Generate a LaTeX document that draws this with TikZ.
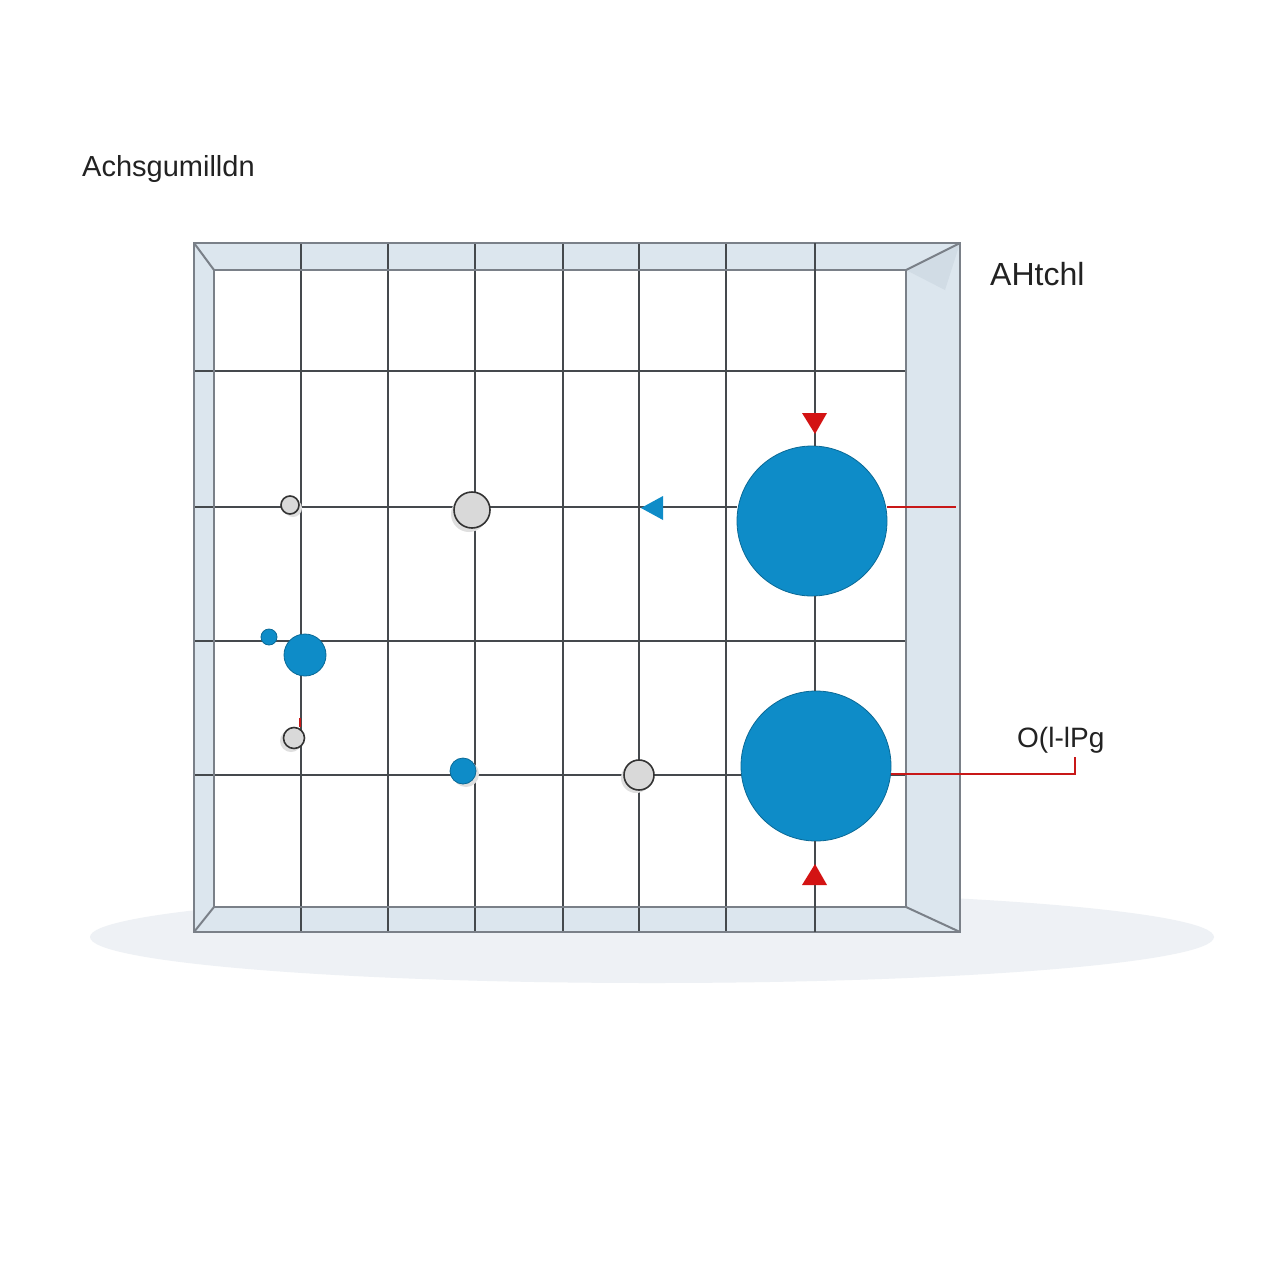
\documentclass[tikz,border=0pt]{standalone}
\usepackage{fontspec}
\setmainfont{Liberation Sans}
\definecolor{bandc}{HTML}{DCE6EE}
\definecolor{bandd}{HTML}{C9D6E0}
\definecolor{framec}{HTML}{7A8088}
\definecolor{gridc}{HTML}{45494D}
\definecolor{dotblue}{HTML}{0E8CC8}
\definecolor{redc}{HTML}{C81818}
\definecolor{shadowc}{HTML}{EEF1F5}
\definecolor{txtc}{HTML}{222222}
\begin{document}
\begin{tikzpicture}[x=1pt,y=-1pt,
  gridline/.style={draw=gridc, line width=1.4pt},
  frameline/.style={draw=framec, line width=2pt},
  bluedot/.style={circle, fill=dotblue, draw=dotblue!75!black, line width=0.8pt, inner sep=0pt, minimum size=#1},
  graydot/.style={circle, fill=gray!30, draw=gray!40!black, line width=1.6pt, inner sep=0pt, minimum size=#1},
  dotshadow/.style={fill=gray!25},
  redline/.style={draw=redc, line width=1.5pt},
  redtip/.style={fill=redc!80!red},
  lbl/.style={text=txtc, inner sep=0pt, anchor=west}]
\useasboundingbox (0,0) rectangle (1280,1280);
\fill[white] (0,0) rectangle (1280,1280);
% ground shadow
\fill[shadowc] (652,937) ellipse [x radius=562, y radius=46];
% frame bands
\fill[bandc] (194,243) rectangle (960,932);
\fill[bandd!60!bandc] (960,243) -- (906,270) -- (945,290) -- cycle;
\fill[white] (214,270) rectangle (906,907);
% grid lines
\foreach \x in {301,388,475,563,639,726}
  \draw[gridline] (\x,243) -- (\x,932);
\foreach \y in {371,641,775}
  \draw[gridline] (194,\y) -- (906,\y);
\draw[gridline] (194,507) -- (737,507);
% frame outlines and bevels
\draw[frameline] (194,243) rectangle (960,932);
\draw[frameline] (214,270) rectangle (906,907);
\draw[frameline] (194,243) -- (214,270);
\draw[frameline] (960,243) -- (906,270);
\draw[frameline] (194,932) -- (214,907);
\draw[frameline] (960,932) -- (906,907);
% big circles
\node[bluedot=150pt] (c1) at (812,521) {};
\node[bluedot=150pt] (c2) at (816,766) {};
% vertical line through big circles
\coordinate (vt) at (815,243);
\coordinate (vb) at (815,932);
\draw[gridline] (vt) -- (c1.north -| vt);
\draw[gridline] (c1.south -| vt) -- (c2.north -| vt);
\draw[gridline] (c2.south -| vt) -- (vb);
% red arrow tips
\fill[redtip] (802,413) -- (827,413) -- (815,434) -- cycle;
\fill[redtip] (802,885) -- (827,885) -- (815,864) -- cycle;
% red line through right band
\coordinate (rr) at (956,507);
\draw[redline] (c1.east |- rr) -- (rr);
% blue triangle
\fill[dotblue] (641,508) -- (663,496) -- (663,520) -- cycle;
% dot shadows
\fill[dotshadow] (293,508) circle (9);
\fill[dotshadow] (469,514) circle (18);
\fill[dotshadow] (291,741) circle (11);
\fill[dotshadow] (636,778) circle (15);
\fill[dotshadow] (466,774) circle (13);
% small dots
\node[graydot=18pt] (g1) at (290,505) {};
\node[graydot=36pt] (g2) at (472,510) {};
\node[graydot=21pt] (g3) at (294,738) {};
\node[graydot=30pt] (g4) at (639,775) {};
\node[bluedot=42pt] (b1) at (305,655) {};
\node[bluedot=16pt] (b2) at (269,637) {};
\node[bluedot=26pt] (b3) at (463,771) {};
\coordinate (rs) at (300,718);
\draw[redline] (rs) -- (g3.north -| rs);
% labels
\node[lbl, font=\fontsize{29}{33}\selectfont] (title) at (82,169) {Achsgumilldn};
\node[lbl, font=\fontsize{32}{36}\selectfont] (lab1) at (990,274) {AHtchl};
\node[lbl, font=\fontsize{28}{32}\selectfont] (lab3) at (1017,740) {O(l-lPg};
% connector to label
\coordinate (k) at (1075,774);
\draw[redline] (c2.east |- k) -- (k) -- (1075,757);
\end{tikzpicture}
\end{document}
